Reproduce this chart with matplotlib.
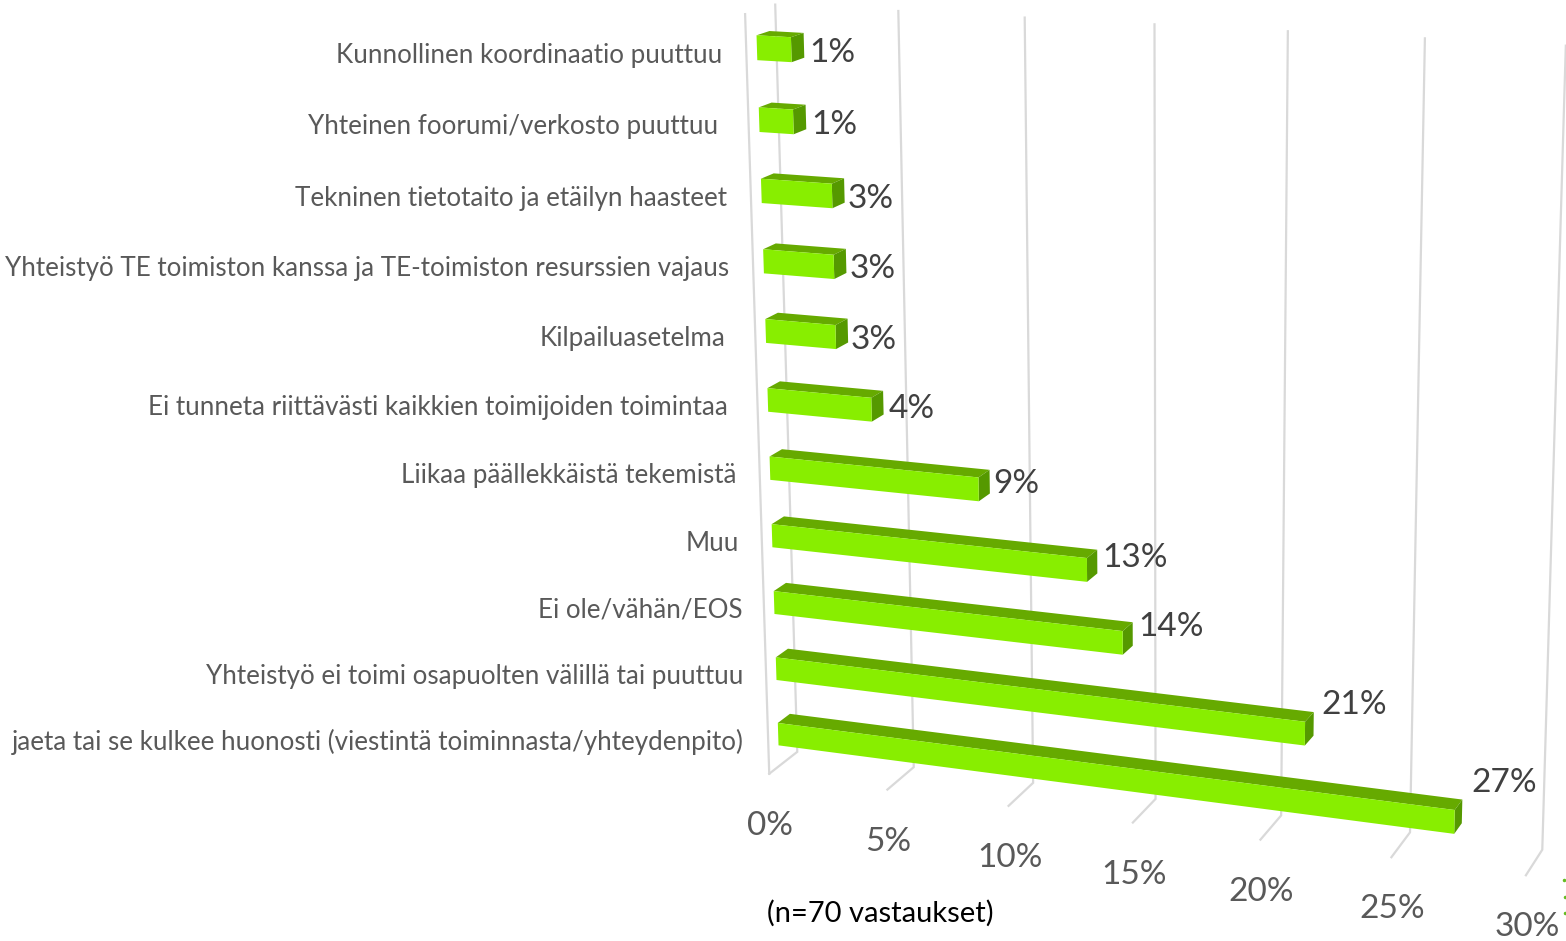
import numpy as np
import matplotlib
matplotlib.use('Agg')
import matplotlib.pyplot as plt
from matplotlib.patches import Polygon

plt.rcParams['font.family'] = ['Lato', 'DejaVu Sans']

# data, top row first
categories = [
    'Kunnollinen koordinaatio puuttuu',
    'Yhteinen foorumi/verkosto puuttuu',
    'Tekninen tietotaito ja etäilyn haasteet',
    'Yhteistyö TE toimiston kanssa ja TE-toimiston resurssien vajaus',
    'Kilpailuasetelma',
    'Ei tunneta riittävästi kaikkien toimijoiden toimintaa',
    'Liikaa päällekkäistä tekemistä',
    'Muu',
    'Ei ole/vähän/EOS',
    'Yhteistyö ei toimi osapuolten välillä tai puuttuu',
    'jaeta tai se kulkee huonosti (viestintä toiminnasta/yhteydenpito)',
]
values = [1.4, 1.4, 2.9, 2.9, 2.9, 4.3, 8.6, 12.9, 14.3, 21.4, 27.1]
ticks = [0, 5, 10, 15, 20, 25, 30]

# small manual nudges of the texts, in pixels
label_gap = [35, 41, 34, 34, 40, 40, 33, 33, 32, 33, 34]
value_dx = [-1, -1, -3, -3, -3, -1, -2, -1, 0, 2, 3]
value_dy = [8, 9, 9, 9, 10, 7, 3, -3, -6, -18, -28]

n_rows = len(categories)
half_h = 0.19
bar_h = 0.172
d_front, d_back = 0.35, 0.78

# camera: (value, row, depth) -> pixel pairs
v_back = [(797, 752), (914, 768), (1033, 782), (1156, 798), (1282, 813), (1410, 832), (1542, 852)]
v_front = [(770, 773), (888, 789), (1008, 806), (1133, 823), (1260, 840), (1391, 857), (1526, 875)]
v_top = [(775, 5), (898, 11), (1025, 18), (1154, 24), (1288, 31), (1426, 38), (1565, 46)]
calib = [((0, 0, 0), (746, 13))]
for t, a, b, c in zip(ticks, v_back, v_front, v_top):
    calib.append(((t, n_rows, 1), a))
    calib.append(((t, n_rows, 0), b))
    calib.append(((t, 0, 1), c))
calib += [
    ((0, 0.5 - half_h, d_front), (757, 34)),
    ((0, 0.5 + half_h, d_front), (757, 61)),
    ((0, 5.5 - half_h, d_front), (767, 386)),
    ((0, 5.5 + half_h, d_front), (767, 412)),
    ((0, 10.5 - half_h, d_front), (778, 723)),
    ((0, 10.5 + half_h, d_front), (778, 746)),
    ((27.1, 10.5 - half_h, d_front), (1455, 809)),
    ((27.1, 10.5 + half_h, d_front), (1454, 834)),
]

A = []
B = []
for (x, y, z), (u, w) in calib:
    A.append([x, y, z, 1, 0, 0, 0, 0, -u * x, -u * y, -u * z])
    A.append([0, 0, 0, 0, x, y, z, 1, -w * x, -w * y, -w * z])
    B += [u, w]
P = np.linalg.lstsq(np.array(A, float), np.array(B, float), rcond=None)[0]
P = np.append(P, 1).reshape(3, 4)


def project(v, r, d):
    p = P @ np.array([v, r, d, 1.0])
    return p[0] / p[2], p[1] / p[2]


fig = plt.figure(figsize=(15.66, 9.41), dpi=100)
ax = fig.add_axes([0, 0, 1, 1])
ax.set_xlim(0, 1566)
ax.set_ylim(941, 0)
ax.axis('off')

# gridlines: back wall, floor and the left edge
grid = '#d9d9d9'
for t in ticks:
    pts = [project(t, 0, 1), project(t, n_rows, 1), project(t, n_rows, 0)]
    ax.plot(*zip(*pts), color=grid, lw=1.6, solid_joinstyle='miter', zorder=1)
    x, y = project(t, n_rows, 0)
    ax.text(x + 1, y + 52, f'{t}%', color='#595959', fontsize=24, ha='center', va='center')
ax.plot(*zip(project(0, 0, 0), project(0, n_rows, 0)), color=grid, lw=1.6, zorder=1)

# bars
for i, (cat, val) in enumerate(zip(categories, values)):
    r0, r1 = i + 0.51 - bar_h, i + 0.51 + bar_h
    top = [project(0, r0, d_front), project(val, r0, d_front), project(val, r0, d_back), project(0, r0, d_back)]
    side = [project(val, r0, d_front), project(val, r1, d_front), project(val, r1, d_back), project(val, r0, d_back)]
    front = [project(0, r0, d_front), project(val, r0, d_front), project(val, r1, d_front), project(0, r1, d_front)]
    ax.add_patch(Polygon(top, fc='#66aa00', ec='none', zorder=3))
    ax.add_patch(Polygon(side, fc='#559900', ec='none', zorder=3))
    ax.add_patch(Polygon(front, fc='#88ee00', ec='none', zorder=4))

    x, y = project(0, i + 0.5, d_front)
    ax.text(x - label_gap[i], y + 8, cat, color='#595959', fontsize=18.7, ha='right', va='center')

    x, y = project(val, i + 0.5, d_back)
    ax.text(x + 6 + value_dx[i], y + value_dy[i], f'{round(val)}%', color='#404040', fontsize=24, ha='left', va='center')

ax.text(767, 913, '(n=70 vastaukset)', color='black', fontsize=21, ha='left', va='center')

# bits of a cropped logo at the right edge
ax.plot([1564, 1565, 1565], [880, 897, 913], ls='none', marker='.', ms=3, color='#66bb22')

fig.savefig('out.png', dpi=100)
